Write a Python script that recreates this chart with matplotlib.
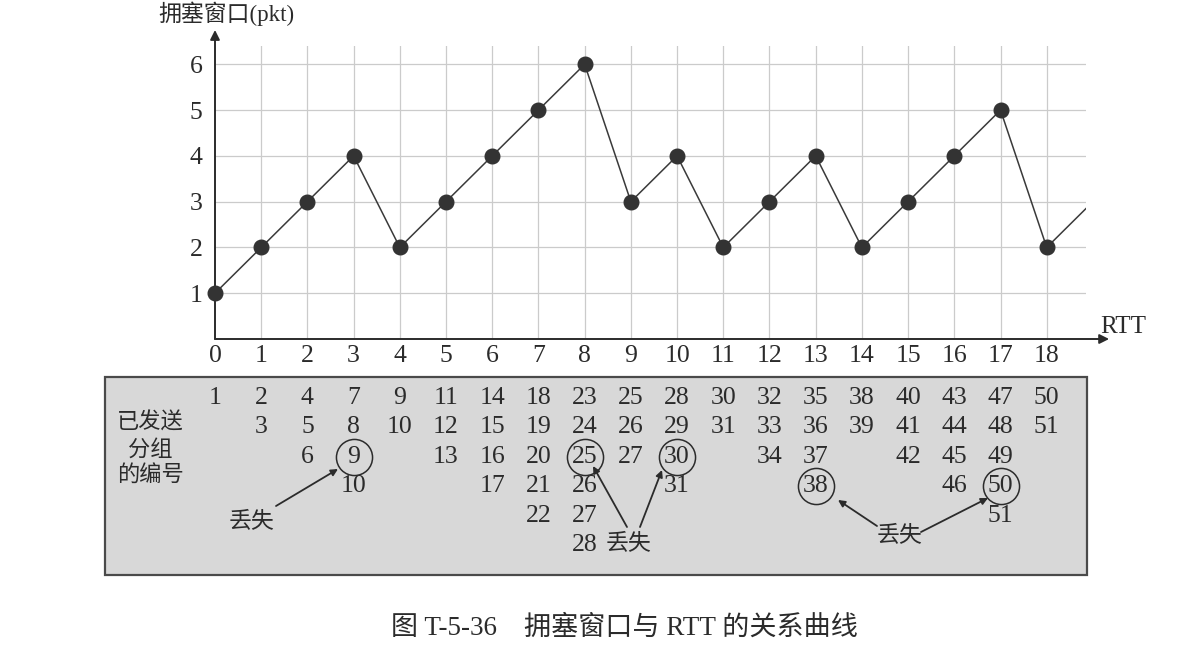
import matplotlib
matplotlib.use("Agg")
import matplotlib.pyplot as plt
import matplotlib.transforms as mtransforms
from matplotlib.patches import Rectangle, FancyArrowPatch

# ---------------- data ----------------
rtt = list(range(0, 20))
cwnd = [1, 2, 3, 4, 2, 3, 4, 5, 6, 3, 4, 2, 3, 4, 2, 3, 4, 5, 2, 3]
rtt_ticks = list(range(0, 19))
cwnd_ticks = [1, 2, 3, 4, 5, 6]

packets_sent = [
    [1],
    [2, 3],
    [4, 5, 6],
    [7, 8, 9, 10],
    [9, 10],
    [11, 12, 13],
    [14, 15, 16, 17],
    [18, 19, 20, 21, 22],
    [23, 24, 25, 26, 27, 28],
    [25, 26, 27],
    [28, 29, 30, 31],
    [30, 31],
    [32, 33, 34],
    [35, 36, 37, 38],
    [38, 39],
    [40, 41, 42],
    [43, 44, 45, 46],
    [47, 48, 49, 50, 51],
    [50, 51],
]
lost_cols = [3, 8, 10, 13, 17]
lost_vals = [9, 25, 30, 38, 50]

ylabel = "拥塞窗口(pkt)"
xlabel = "RTT"
row_label = "已发送\n分组\n的编号"
lost_label = "丢失"
caption = "图 T-5-36    拥塞窗口与 RTT 的关系曲线"

# ---------------- style ----------------
W, H = 1188, 656
SERIF = ["Liberation Serif", "Noto Sans CJK SC"]
CJK = ["Noto Sans CJK SC", "DejaVu Sans"]
INK = "#2b2b2b"

fig = plt.figure(figsize=(W / 100, H / 100), dpi=100)
fig.patch.set_facecolor("white")

def fx(px):
    return px / W

def fy(py):
    return 1 - py / H

# table background (drawn first, behind everything)
rect = Rectangle((fx(105), fy(575)), (1087 - 105) / W, (575 - 377) / H,
                 transform=fig.transFigure, facecolor="#d8d8d8",
                 edgecolor="#4a4a4a", lw=1.6, zorder=-5)
fig.patches.append(rect)

ax = fig.add_axes([fx(215), fy(339), (1086 - 215) / W, (339 - 46) / H])
ax.set_xlim(0, 18.85)
ax.set_ylim(0, 6.4)
for s in ax.spines.values():
    s.set_visible(False)
ax.set_facecolor("none")
ax.set_zorder(1)

# grid
for x in rtt_ticks[1:]:
    ax.axvline(x, color="#cbcbcb", lw=0.9, zorder=1)
for y in cwnd_ticks:
    ax.axhline(y, color="#cbcbcb", lw=0.9, zorder=1)

# line + markers
ax.plot(rtt, cwnd, color="#3a3a3a", lw=1.1, zorder=3)
ax.plot(rtt[:19], cwnd[:19], ls="none", marker="o", ms=10.5,
        color="#333333", zorder=4, clip_on=False)

# axis arrows
ax.annotate("", xy=(19.35, 0), xytext=(0, 0), xycoords="data",
            arrowprops=dict(arrowstyle="-|>", color=INK, lw=1.4,
                            mutation_scale=14, shrinkA=0, shrinkB=0),
            annotation_clip=False)
ax.annotate("", xy=(0, 6.75), xytext=(0, 0), xycoords="data",
            arrowprops=dict(arrowstyle="-|>", color=INK, lw=1.4,
                            mutation_scale=14, shrinkA=0, shrinkB=0),
            annotation_clip=False)

ax.set_xticks(rtt_ticks)
ax.set_yticks(cwnd_ticks)
ax.set_xticklabels([str(v) for v in rtt_ticks], family=SERIF, fontsize=18.5, color=INK)
ax.set_yticklabels([str(v) for v in cwnd_ticks], family=SERIF, fontsize=18.5, color=INK)
ax.tick_params(length=0, pad=4)
ax.tick_params(axis="y", pad=9)

fig.text(fx(158), fy(14), ylabel, family=SERIF, fontsize=16.5, color=INK,
         ha="left", va="center")
fig.text(fx(1100), fy(327), xlabel, family=SERIF, fontsize=18, color=INK,
         ha="left", va="center")

# ---------------- table ----------------
blend = mtransforms.blended_transform_factory(ax.transData, fig.transFigure)

def row_y(r):
    return fy(398 + 29.4 * r)

for c, col in enumerate(packets_sent):
    for r, v in enumerate(col):
        ax.text(c, row_y(r), str(v), transform=blend, family=SERIF,
                fontsize=18.5, color=INK, ha="center", va="center",
                clip_on=False, zorder=5)

for c, v in zip(lost_cols, lost_vals):
    r = packets_sent[c].index(v)
    ax.plot([c], [row_y(r)], transform=blend, marker="o", ms=26,
            mfc="none", mec=INK, mew=1.1, clip_on=False, zorder=5)

fig.text(fx(150), fy(449), row_label, family=CJK, fontsize=16, color=INK,
         ha="center", va="center", linespacing=1.2)

def arrow(x0, y0, x1, y1):
    fig.add_artist(FancyArrowPatch(
        (fx(x0), fy(y0)), (fx(x1), fy(y1)), transform=fig.transFigure,
        arrowstyle="-|>", mutation_scale=10, color=INK, lw=1.3,
        shrinkA=0, shrinkB=0, zorder=6))

fig.text(fx(252), fy(522), lost_label, family=CJK, fontsize=16.5, color=INK,
         ha="center", va="center")
arrow(276, 506, 338, 469)

fig.text(fx(629), fy(544), lost_label, family=CJK, fontsize=16.5, color=INK,
         ha="center", va="center")
arrow(627, 527, 593, 466)
arrow(640, 527, 662, 470)

fig.text(fx(899), fy(536), lost_label, family=CJK, fontsize=16.5, color=INK,
         ha="center", va="center")
arrow(877, 526, 838, 500)
arrow(921, 532, 988, 498)

fig.text(fx(624), fy(628), caption, family=SERIF, fontsize=19.5, color=INK,
         ha="center", va="center")

fig.savefig("out.png", dpi=100, facecolor="white")
